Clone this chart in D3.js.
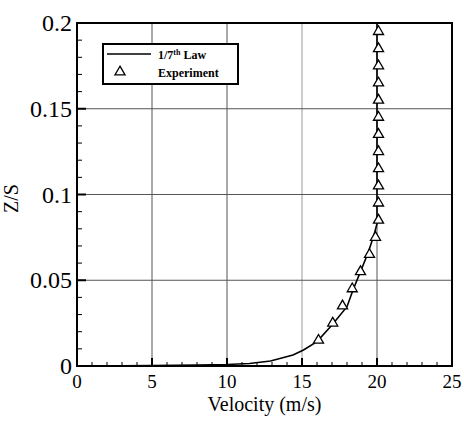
<!DOCTYPE html>
<html>
<head>
<meta charset="utf-8">
<script src="https://cdn.jsdelivr.net/npm/d3@7"></script>
<style>
  body { margin: 0; background: #fff; }
</style>
</head>
<body>
<svg id="chart"></svg>
<script>
// 1/7th power law curve
const lawVelocity = [1.1, 5, 8, 10, 11.5, 12.9, 14.4, 15.1, 16.0, 17.0, 18.0, 18.4, 18.9, 19.4, 19.8, 20.0, 20.0];
const lawZ        = [0.0, 0.0003, 0.0006, 0.0009, 0.0015, 0.0029, 0.0064, 0.0093, 0.0142, 0.0239, 0.0346, 0.0443, 0.055, 0.0659, 0.0764, 0.083, 0.2];

// Experimental points (triangles)
const expVelocity = [16.1, 17.05, 17.7, 18.35, 18.9, 19.5, 19.9, 20.1, 20.1, 20.1, 20.1, 20.1, 20.1, 20.1, 20.1, 20.1, 20.1, 20.1, 20.1];
const expZ        = [0.015, 0.025, 0.035, 0.045, 0.055, 0.065, 0.075, 0.085, 0.095, 0.105, 0.115, 0.125, 0.135, 0.145, 0.155, 0.165, 0.175, 0.185, 0.195];

const xTicks = [0, 5, 10, 15, 20, 25];
const yTicks = [0, 0.05, 0.1, 0.15, 0.2];
const yTickLabels = ["0", "0.05", "0.1", "0.15", "0.2"];

const FONT = "Liberation Serif";

const W = 464, H = 422;
const margin = { top: 23, right: 12, bottom: 56, left: 77 };
const width = W - margin.left - margin.right;
const height = H - margin.top - margin.bottom;

const svg = d3.select("#chart").attr("width", W).attr("height", H);
const g = svg.append("g").attr("transform", "translate(" + margin.left + "," + margin.top + ")");

const x = d3.scaleLinear().domain([0, 25]).range([0, width]);
const y = d3.scaleLinear().domain([0, 0.2]).range([height, 0]);

// grid lines
g.selectAll(".gx").data(xTicks.slice(1, -1)).enter().append("line")
    .attr("x1", d => x(d)).attr("x2", d => x(d))
    .attr("y1", 0).attr("y2", height)
    .attr("stroke", d => d === 15 ? "#999" : "#555").attr("stroke-width", 1);

g.selectAll(".gy").data(yTicks.slice(1, -1)).enter().append("line")
    .attr("x1", 0).attr("x2", width)
    .attr("y1", d => y(d)).attr("y2", d => y(d))
    .attr("stroke", "#555").attr("stroke-width", 1);

// minor + major ticks (inside)
g.selectAll(".mx").data(d3.range(1, 25)).enter().append("line")
    .attr("x1", d => x(d)).attr("x2", d => x(d))
    .attr("y1", height).attr("y2", d => height - (d % 5 === 0 ? 8 : 4))
    .attr("stroke", "#000").attr("stroke-width", d => d % 5 === 0 ? 2 : 1);

g.selectAll(".my").data(d3.range(1, 20)).enter().append("line")
    .attr("y1", d => y(d / 100)).attr("y2", d => y(d / 100))
    .attr("x1", 0).attr("x2", d => (d % 5 === 0 ? 9 : 5))
    .attr("stroke", "#000").attr("stroke-width", d => d % 5 === 0 ? 2 : 1);

// frame
g.append("rect")
    .attr("width", width).attr("height", height)
    .attr("fill", "none").attr("stroke", "#000").attr("stroke-width", 2);

// tick labels
g.selectAll(".xl").data(xTicks).enter().append("text")
    .attr("x", d => x(d)).attr("y", height + 22)
    .attr("text-anchor", "middle")
    .attr("font-family", FONT).attr("font-size", 19)
    .text(d => d);

g.selectAll(".yl").data(yTicks).enter().append("text")
    .attr("x", -5).attr("y", d => y(d))
    .attr("dy", "0.34em")
    .attr("text-anchor", "end")
    .attr("font-family", FONT).attr("font-size", 24)
    .text((d, i) => yTickLabels[i]);

// axis titles
svg.append("text")
    .attr("x", margin.left + width / 2).attr("y", 411)
    .attr("text-anchor", "middle")
    .attr("font-family", FONT).attr("font-size", 20)
    .text("Velocity (m/s)");

svg.append("text")
    .attr("transform", "translate(18," + (margin.top + height / 2 + 4) + ") rotate(-90)")
    .attr("text-anchor", "middle")
    .attr("font-family", FONT).attr("font-size", 20)
    .text("Z/S");

// 1/7th law line
const line = d3.line().x(d => x(d[0])).y(d => y(d[1]));
g.append("path")
    .datum(lawVelocity.map((v, i) => [v, lawZ[i]]))
    .attr("d", line)
    .attr("fill", "none").attr("stroke", "#000").attr("stroke-width", 1.6);

// experiment triangles
const tri = d3.symbol().type(d3.symbolTriangle).size(44);
g.selectAll(".pt").data(expZ).enter().append("path")
    .attr("d", tri)
    .attr("transform", (d, i) => "translate(" + x(expVelocity[i]) + "," + y(d) + ")")
    .attr("fill", "#fff").attr("stroke", "#000").attr("stroke-width", 1.3);

// legend
const lg = svg.append("g").attr("transform", "translate(103,44)");
lg.append("rect").attr("width", 135).attr("height", 40)
    .attr("fill", "#fff").attr("stroke", "#000").attr("stroke-width", 2);
lg.append("line").attr("x1", 4).attr("x2", 48).attr("y1", 10).attr("y2", 10)
    .attr("stroke", "#000").attr("stroke-width", 1.6);
lg.append("path").attr("d", tri).attr("transform", "translate(17,28)")
    .attr("fill", "#fff").attr("stroke", "#000").attr("stroke-width", 1.3);
const t1 = lg.append("text").attr("x", 55).attr("y", 15)
    .attr("font-family", FONT).attr("font-size", 12).attr("font-weight", "bold");
t1.append("tspan").text("1/7");
t1.append("tspan").attr("dy", -4).attr("font-size", 8).text("th");
t1.append("tspan").attr("dy", 4).text(" Law");
lg.append("text").attr("x", 55).attr("y", 33)
    .attr("font-family", FONT).attr("font-size", 12).attr("font-weight", "bold")
    .text("Experiment");
</script>
</body>
</html>
